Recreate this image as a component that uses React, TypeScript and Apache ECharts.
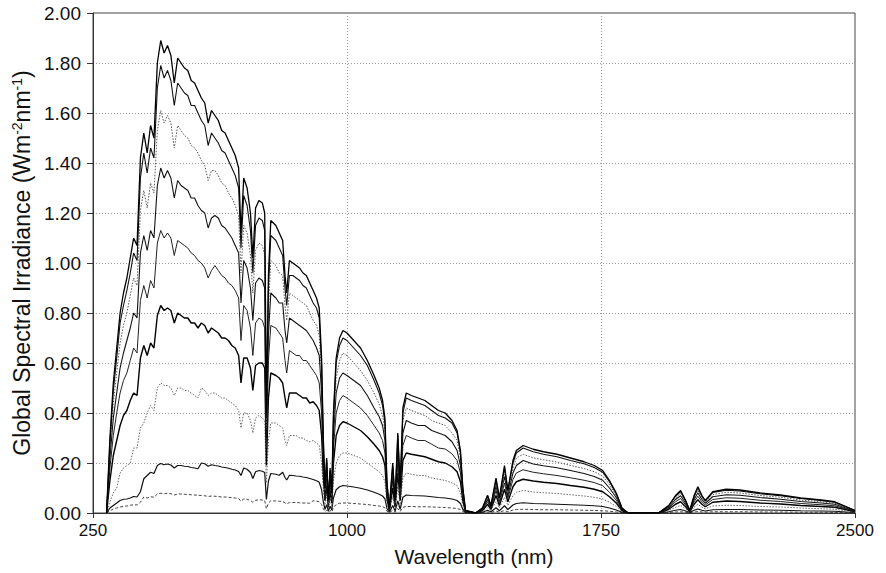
import { useEffect, useRef } from "react";
import * as echarts from "echarts";

// Sampled wavelengths (nm) shared by every spectrum
const WAVELENGTH_NM = [
  290, 300, 310, 320, 330, 340, 350, 360, 370, 380,
  390, 400, 410, 420, 430, 440, 450, 460, 470, 480,
  490, 500, 510, 520, 530, 540, 550, 560, 570, 580,
  590, 600, 610, 620, 630, 640, 650, 660, 670, 680,
  687, 695, 705, 715, 722, 730, 740, 750, 757, 762,
  768, 775, 790, 800, 810, 817, 822, 830, 840, 850,
  860, 870, 880, 890, 900, 910, 918, 925, 930, 935,
  940, 945, 950, 955, 960, 968, 978, 988, 1000, 1020,
  1040, 1060, 1080, 1095, 1105, 1112, 1118, 1125, 1135, 1142,
  1150, 1157, 1165, 1175, 1190, 1210, 1230, 1250, 1270, 1290,
  1310, 1325, 1335, 1342, 1350, 1380, 1400, 1415, 1425, 1440,
  1450, 1465, 1475, 1490, 1500, 1520, 1550, 1580, 1620, 1660,
  1700, 1730, 1755, 1775, 1795, 1812, 1830, 1920, 1950, 1970,
  1985, 2000, 2012, 2025, 2036, 2048, 2058, 2080, 2120, 2160,
  2220, 2280, 2340, 2400, 2440, 2475, 2500,
];

// Global spectral irradiance (W m-2 nm-1), one array per spectrum
const CURVE_1 = [
  0, 0.30, 0.52, 0.66, 0.80, 0.88, 0.94, 1.02, 1.10, 1.07,
  1.42, 1.52, 1.44, 1.55, 1.50, 1.80, 1.89, 1.84, 1.87, 1.83,
  1.72, 1.82, 1.80, 1.78, 1.77, 1.73, 1.72, 1.69, 1.66, 1.64,
  1.56, 1.61, 1.59, 1.57, 1.53, 1.52, 1.49, 1.46, 1.43, 1.38,
  1.12, 1.34, 1.30, 1.20, 1.02, 1.22, 1.25, 1.24, 1.20, 0.40,
  0.95, 1.17, 1.15, 1.12, 1.09, 0.95, 0.88, 1.01, 1.00, 0.99,
  0.98, 0.96, 0.95, 0.92, 0.89, 0.86, 0.82, 0.62, 0.30, 0.10,
  0.22, 0.05, 0.18, 0.08, 0.40, 0.62, 0.70, 0.73, 0.72, 0.69,
  0.66, 0.61, 0.55, 0.50, 0.45, 0.38, 0.12, 0.02, 0.20, 0.05,
  0.32, 0.10, 0.42, 0.48, 0.47, 0.46, 0.45, 0.43, 0.41, 0.40,
  0.37, 0.33, 0.25, 0.10, 0.01, 0, 0.02, 0.07, 0.03, 0.14,
  0.06, 0.19, 0.09, 0.21, 0.25, 0.27, 0.255, 0.245, 0.235, 0.22,
  0.205, 0.19, 0.17, 0.13, 0.08, 0.02, 0, 0, 0.03, 0.07,
  0.09, 0.05, 0.01, 0.07, 0.105, 0.07, 0.05, 0.085, 0.095, 0.092,
  0.08, 0.072, 0.06, 0.052, 0.045, 0.025, 0.01,
];

const CURVE_2 = [
  0, 0.28, 0.49, 0.62, 0.76, 0.83, 0.89, 0.96, 1.04, 1.01,
  1.34, 1.44, 1.36, 1.46, 1.42, 1.70, 1.79, 1.74, 1.77, 1.73,
  1.63, 1.72, 1.70, 1.68, 1.67, 1.63, 1.63, 1.60, 1.57, 1.55,
  1.47, 1.52, 1.50, 1.48, 1.45, 1.44, 1.41, 1.38, 1.35, 1.30,
  1.06, 1.27, 1.23, 1.13, 0.96, 1.15, 1.18, 1.17, 1.13, 0.38,
  0.90, 1.11, 1.09, 1.06, 1.03, 0.90, 0.83, 0.95, 0.95, 0.94,
  0.93, 0.91, 0.90, 0.87, 0.84, 0.82, 0.78, 0.59, 0.29, 0.10,
  0.21, 0.05, 0.17, 0.08, 0.38, 0.60, 0.67, 0.70, 0.69, 0.66,
  0.63, 0.59, 0.53, 0.48, 0.43, 0.36, 0.12, 0.02, 0.19, 0.05,
  0.31, 0.10, 0.40, 0.46, 0.45, 0.44, 0.43, 0.41, 0.39, 0.38,
  0.36, 0.32, 0.24, 0.10, 0.01, 0, 0.02, 0.07, 0.03, 0.13,
  0.06, 0.18, 0.09, 0.20, 0.24, 0.26, 0.245, 0.235, 0.225, 0.21,
  0.197, 0.182, 0.163, 0.125, 0.077, 0.019, 0, 0, 0.029, 0.067,
  0.086, 0.048, 0.01, 0.067, 0.101, 0.067, 0.048, 0.082, 0.091, 0.088,
  0.077, 0.069, 0.058, 0.05, 0.043, 0.024, 0.01,
];

const CURVE_3 = [
  0, 0.26, 0.44, 0.56, 0.68, 0.75, 0.80, 0.87, 0.94, 0.91,
  1.21, 1.29, 1.22, 1.32, 1.28, 1.53, 1.61, 1.56, 1.59, 1.56,
  1.46, 1.55, 1.53, 1.51, 1.50, 1.47, 1.46, 1.44, 1.41, 1.39,
  1.33, 1.37, 1.37, 1.35, 1.32, 1.31, 1.28, 1.26, 1.23, 1.19,
  0.96, 1.15, 1.12, 1.03, 0.88, 1.05, 1.08, 1.07, 1.03, 0.34,
  0.82, 1.01, 0.99, 0.96, 0.95, 0.83, 0.77, 0.88, 0.87, 0.86,
  0.85, 0.84, 0.83, 0.80, 0.77, 0.75, 0.71, 0.54, 0.26, 0.09,
  0.19, 0.04, 0.16, 0.07, 0.35, 0.54, 0.61, 0.64, 0.63, 0.60,
  0.57, 0.53, 0.48, 0.435, 0.39, 0.33, 0.10, 0.02, 0.17, 0.04,
  0.28, 0.09, 0.37, 0.42, 0.41, 0.40, 0.39, 0.37, 0.36, 0.35,
  0.32, 0.29, 0.22, 0.09, 0.01, 0, 0.02, 0.06, 0.03, 0.12,
  0.05, 0.165, 0.08, 0.18, 0.22, 0.235, 0.22, 0.213, 0.204, 0.19,
  0.178, 0.165, 0.148, 0.113, 0.07, 0.017, 0, 0, 0.026, 0.06,
  0.078, 0.044, 0.009, 0.06, 0.091, 0.06, 0.044, 0.074, 0.083, 0.08,
  0.07, 0.063, 0.052, 0.045, 0.039, 0.022, 0.009,
];

const CURVE_4 = [
  0, 0.22, 0.38, 0.48, 0.58, 0.64, 0.69, 0.74, 0.80, 0.78,
  1.04, 1.11, 1.05, 1.13, 1.10, 1.31, 1.38, 1.34, 1.37, 1.34,
  1.26, 1.33, 1.31, 1.30, 1.29, 1.26, 1.26, 1.23, 1.21, 1.20,
  1.14, 1.18, 1.19, 1.18, 1.15, 1.14, 1.12, 1.10, 1.07, 1.04,
  0.84, 1.01, 0.98, 0.90, 0.77, 0.92, 0.94, 0.93, 0.90, 0.30,
  0.71, 0.88, 0.86, 0.84, 0.84, 0.73, 0.68, 0.78, 0.77, 0.76,
  0.75, 0.74, 0.73, 0.71, 0.69, 0.66, 0.63, 0.48, 0.23, 0.08,
  0.17, 0.04, 0.14, 0.06, 0.31, 0.48, 0.54, 0.56, 0.55, 0.53,
  0.51, 0.47, 0.42, 0.385, 0.35, 0.29, 0.09, 0.015, 0.15, 0.04,
  0.25, 0.08, 0.32, 0.37, 0.36, 0.35, 0.35, 0.33, 0.32, 0.31,
  0.285, 0.25, 0.19, 0.08, 0.01, 0, 0.015, 0.054, 0.023, 0.108,
  0.046, 0.146, 0.069, 0.16, 0.19, 0.21, 0.196, 0.189, 0.181, 0.17,
  0.158, 0.146, 0.131, 0.10, 0.062, 0.015, 0, 0, 0.023, 0.054,
  0.069, 0.039, 0.008, 0.054, 0.081, 0.054, 0.039, 0.065, 0.073, 0.071,
  0.062, 0.055, 0.046, 0.04, 0.035, 0.019, 0.008,
];

const CURVE_5 = [
  0, 0.18, 0.31, 0.40, 0.48, 0.53, 0.56, 0.61, 0.66, 0.64,
  0.85, 0.91, 0.86, 0.93, 0.90, 1.08, 1.13, 1.10, 1.12, 1.10,
  1.03, 1.09, 1.08, 1.07, 1.06, 1.04, 1.03, 1.01, 1.00, 0.98,
  0.94, 0.97, 0.99, 0.97, 0.95, 0.94, 0.92, 0.91, 0.89, 0.86,
  0.69, 0.83, 0.81, 0.74, 0.63, 0.76, 0.78, 0.77, 0.74, 0.26,
  0.61, 0.75, 0.74, 0.72, 0.70, 0.61, 0.56, 0.65, 0.64, 0.63,
  0.63, 0.61, 0.61, 0.59, 0.57, 0.55, 0.52, 0.40, 0.19, 0.06,
  0.14, 0.03, 0.12, 0.05, 0.26, 0.40, 0.45, 0.47, 0.46, 0.44,
  0.42, 0.39, 0.35, 0.32, 0.29, 0.24, 0.08, 0.01, 0.13, 0.03,
  0.20, 0.06, 0.27, 0.31, 0.30, 0.29, 0.29, 0.275, 0.26, 0.256,
  0.237, 0.21, 0.16, 0.064, 0.006, 0, 0.013, 0.045, 0.019, 0.09,
  0.038, 0.12, 0.058, 0.134, 0.16, 0.173, 0.163, 0.157, 0.15, 0.141,
  0.131, 0.122, 0.109, 0.083, 0.051, 0.013, 0, 0, 0.019, 0.045,
  0.058, 0.032, 0.006, 0.045, 0.067, 0.045, 0.032, 0.054, 0.061, 0.059,
  0.051, 0.046, 0.038, 0.033, 0.029, 0.016, 0.006,
];

const CURVE_6 = [
  0, 0.13, 0.23, 0.29, 0.35, 0.39, 0.41, 0.45, 0.48, 0.47,
  0.62, 0.67, 0.63, 0.68, 0.66, 0.79, 0.83, 0.81, 0.82, 0.81,
  0.76, 0.80, 0.79, 0.78, 0.78, 0.76, 0.76, 0.74, 0.76, 0.75,
  0.72, 0.74, 0.73, 0.72, 0.70, 0.70, 0.69, 0.67, 0.66, 0.63,
  0.52, 0.62, 0.62, 0.58, 0.49, 0.59, 0.60, 0.60, 0.58, 0.19,
  0.46, 0.56, 0.55, 0.54, 0.52, 0.46, 0.42, 0.48, 0.48, 0.48,
  0.47, 0.46, 0.46, 0.44, 0.445, 0.43, 0.41, 0.31, 0.15, 0.05,
  0.11, 0.025, 0.09, 0.04, 0.20, 0.31, 0.35, 0.365, 0.36, 0.345,
  0.33, 0.305, 0.275, 0.25, 0.225, 0.19, 0.06, 0.01, 0.10, 0.025,
  0.16, 0.05, 0.21, 0.24, 0.235, 0.23, 0.225, 0.215, 0.205, 0.20,
  0.185, 0.165, 0.125, 0.05, 0.005, 0, 0.01, 0.035, 0.015, 0.07,
  0.03, 0.095, 0.045, 0.105, 0.125, 0.135, 0.128, 0.123, 0.118, 0.11,
  0.103, 0.095, 0.085, 0.065, 0.04, 0.01, 0, 0, 0.015, 0.035,
  0.045, 0.025, 0.005, 0.035, 0.053, 0.035, 0.025, 0.043, 0.048, 0.046,
  0.04, 0.036, 0.03, 0.026, 0.023, 0.013, 0.005,
];

const CURVE_7 = [
  0, 0.045, 0.08, 0.10, 0.16, 0.18, 0.19, 0.20, 0.26, 0.26,
  0.34, 0.36, 0.40, 0.43, 0.41, 0.50, 0.52, 0.51, 0.51, 0.50,
  0.47, 0.50, 0.50, 0.49, 0.49, 0.48, 0.47, 0.46, 0.50, 0.49,
  0.47, 0.48, 0.48, 0.47, 0.46, 0.46, 0.45, 0.44, 0.43, 0.41,
  0.34, 0.40, 0.40, 0.37, 0.32, 0.38, 0.39, 0.38, 0.37, 0.12,
  0.29, 0.36, 0.36, 0.35, 0.34, 0.29, 0.27, 0.31, 0.31, 0.31,
  0.30, 0.30, 0.29, 0.285, 0.29, 0.28, 0.27, 0.20, 0.10, 0.033,
  0.073, 0.017, 0.06, 0.026, 0.13, 0.20, 0.23, 0.24, 0.24, 0.23,
  0.22, 0.20, 0.18, 0.165, 0.15, 0.125, 0.04, 0.007, 0.066, 0.017,
  0.105, 0.033, 0.14, 0.16, 0.155, 0.15, 0.15, 0.14, 0.135, 0.13,
  0.12, 0.11, 0.08, 0.033, 0.003, 0, 0.007, 0.023, 0.01, 0.046,
  0.02, 0.063, 0.03, 0.07, 0.083, 0.09, 0.084, 0.081, 0.078, 0.073,
  0.068, 0.063, 0.056, 0.043, 0.026, 0.007, 0, 0, 0.01, 0.023,
  0.03, 0.017, 0.003, 0.023, 0.035, 0.023, 0.017, 0.028, 0.031, 0.03,
  0.026, 0.024, 0.02, 0.017, 0.015, 0.008, 0.003,
];

const CURVE_8 = [
  0, 0.02, 0.03, 0.04, 0.05, 0.055, 0.056, 0.06, 0.066, 0.064,
  0.085, 0.137, 0.15, 0.163, 0.158, 0.19, 0.198, 0.193, 0.196, 0.192,
  0.18, 0.19, 0.19, 0.187, 0.186, 0.182, 0.18, 0.177, 0.20, 0.197,
  0.187, 0.193, 0.19, 0.188, 0.184, 0.182, 0.179, 0.175, 0.172, 0.166,
  0.15, 0.18, 0.175, 0.162, 0.138, 0.165, 0.17, 0.167, 0.162, 0.054,
  0.128, 0.158, 0.155, 0.151, 0.163, 0.142, 0.132, 0.151, 0.15, 0.148,
  0.147, 0.144, 0.142, 0.138, 0.134, 0.129, 0.123, 0.093, 0.045, 0.015,
  0.033, 0.008, 0.027, 0.012, 0.06, 0.093, 0.105, 0.11, 0.108, 0.104,
  0.099, 0.092, 0.083, 0.075, 0.068, 0.057, 0.018, 0.003, 0.03, 0.008,
  0.048, 0.015, 0.063, 0.072, 0.07, 0.069, 0.068, 0.065, 0.062, 0.06,
  0.056, 0.05, 0.038, 0.015, 0.002, 0, 0.003, 0.011, 0.005, 0.021,
  0.009, 0.029, 0.014, 0.032, 0.038, 0.041, 0.038, 0.037, 0.035, 0.033,
  0.031, 0.029, 0.026, 0.02, 0.012, 0.003, 0, 0, 0.005, 0.011,
  0.014, 0.008, 0.002, 0.011, 0.016, 0.011, 0.008, 0.013, 0.014, 0.014,
  0.012, 0.011, 0.009, 0.008, 0.007, 0.004, 0.002,
];

const CURVE_9 = [
  0, 0.009, 0.016, 0.02, 0.024, 0.026, 0.028, 0.031, 0.033, 0.032,
  0.043, 0.064, 0.06, 0.065, 0.063, 0.076, 0.079, 0.077, 0.079, 0.077,
  0.072, 0.076, 0.076, 0.075, 0.074, 0.073, 0.072, 0.071, 0.07, 0.069,
  0.066, 0.068, 0.067, 0.066, 0.064, 0.064, 0.063, 0.061, 0.06, 0.058,
  0.047, 0.056, 0.055, 0.05, 0.043, 0.051, 0.053, 0.052, 0.05, 0.017,
  0.04, 0.049, 0.048, 0.047, 0.046, 0.04, 0.037, 0.042, 0.042, 0.042,
  0.041, 0.04, 0.04, 0.039, 0.049, 0.047, 0.045, 0.034, 0.017, 0.006,
  0.012, 0.003, 0.01, 0.004, 0.022, 0.034, 0.039, 0.04, 0.04, 0.038,
  0.036, 0.034, 0.03, 0.028, 0.025, 0.021, 0.007, 0.001, 0.011, 0.003,
  0.018, 0.006, 0.023, 0.026, 0.026, 0.025, 0.025, 0.024, 0.023, 0.022,
  0.02, 0.018, 0.014, 0.006, 0.001, 0, 0.001, 0.004, 0.002, 0.008,
  0.003, 0.01, 0.005, 0.012, 0.014, 0.015, 0.014, 0.013, 0.013, 0.012,
  0.011, 0.01, 0.009, 0.007, 0.004, 0.001, 0, 0, 0.002, 0.004,
  0.005, 0.003, 0.001, 0.004, 0.006, 0.004, 0.003, 0.005, 0.005, 0.005,
  0.004, 0.004, 0.003, 0.003, 0.002, 0.001, 0.001,
];

const CURVES = [CURVE_1, CURVE_2, CURVE_3, CURVE_4, CURVE_5, CURVE_6, CURVE_7, CURVE_8, CURVE_9];

// Drawing style of each spectrum, in the same order as CURVES
const STROKES: { color: string; width: number; type: "solid" | number[] }[] = [
  { color: "#000", width: 1.3, type: "solid" },
  { color: "#111", width: 1.1, type: "solid" },
  { color: "#555", width: 1, type: [1.5, 1.5] },
  { color: "#111", width: 1.1, type: "solid" },
  { color: "#222", width: 1, type: "solid" },
  { color: "#000", width: 1.4, type: "solid" },
  { color: "#666", width: 1, type: [1.5, 1.5] },
  { color: "#111", width: 1.2, type: "solid" },
  { color: "#444", width: 1, type: [3, 2] },
];

const FONT = "'Liberation Sans', Arial, Helvetica, sans-serif";

export default function App() {
  const ref = useRef<HTMLDivElement>(null);

  useEffect(() => {
    if (!ref.current) return;
    const chart = echarts.init(ref.current, null, { renderer: "svg" });

    const series = CURVES.map((curve, k) => ({
      type: "line" as const,
      name: `spectrum ${k + 1}`,
      data: WAVELENGTH_NM.map((w, i) => [w, curve[i]]),
      showSymbol: false,
      symbol: "none",
      smooth: false,
      z: 20 - k,
      lineStyle: {
        color: STROKES[k].color,
        width: STROKES[k].width,
        type: STROKES[k].type,
      },
    })).reverse();

    chart.setOption({
      animation: false,
      backgroundColor: "#ffffff",
      textStyle: { fontFamily: FONT, color: "#111" },
      grid: {
        left: 93,
        right: 31,
        top: 13,
        bottom: 60,
        show: true,
        borderColor: "#444",
        borderWidth: 1,
        backgroundColor: "transparent",
      },
      xAxis: {
        type: "value",
        min: 250,
        max: 2500,
        interval: 750,
        name: "Wavelength (nm)",
        nameLocation: "middle",
        nameGap: 33,
        nameTextStyle: { fontFamily: FONT, fontSize: 21, color: "#111" },
        axisLine: { show: true, lineStyle: { color: "#333", width: 1 } },
        axisTick: { show: true, length: 5, lineStyle: { color: "#333" } },
        axisLabel: {
          fontFamily: FONT,
          fontSize: 17,
          color: "#111",
          margin: 9,
          formatter: (v: number) => String(Math.round(v)),
        },
        splitLine: {
          show: true,
          showMinLine: false,
          showMaxLine: false,
          lineStyle: { color: "#9a9a9a", width: 1, type: [1, 2] },
        },
      },
      yAxis: {
        type: "value",
        min: 0,
        max: 2,
        interval: 0.2,
        name: "Global Spectral Irradiance (Wm{sup|-2}nm{sup|-1})",
        nameLocation: "middle",
        nameRotate: 90,
        nameGap: 60,
        nameTextStyle: {
          fontFamily: FONT,
          fontSize: 23,
          color: "#111",
          rich: {
            sup: { fontFamily: FONT, fontSize: 14, color: "#111", verticalAlign: "top" },
          },
        },
        axisLine: { show: true, lineStyle: { color: "#333", width: 1 } },
        axisTick: { show: true, length: 6, lineStyle: { color: "#333" } },
        axisLabel: {
          fontSize: 19,
          color: "#111",
          margin: 12,
          formatter: (v: number) => v.toFixed(2),
        },
        splitLine: {
          show: true,
          showMinLine: false,
          showMaxLine: false,
          lineStyle: { color: "#9a9a9a", width: 1, type: [1, 2] },
        },
      },
      series,
    });

    return () => chart.dispose();
  }, []);

  return (
    <div
      ref={ref}
      style={{ position: "absolute", left: 0, top: 0, width: 886, height: 573 }}
    />
  );
}
